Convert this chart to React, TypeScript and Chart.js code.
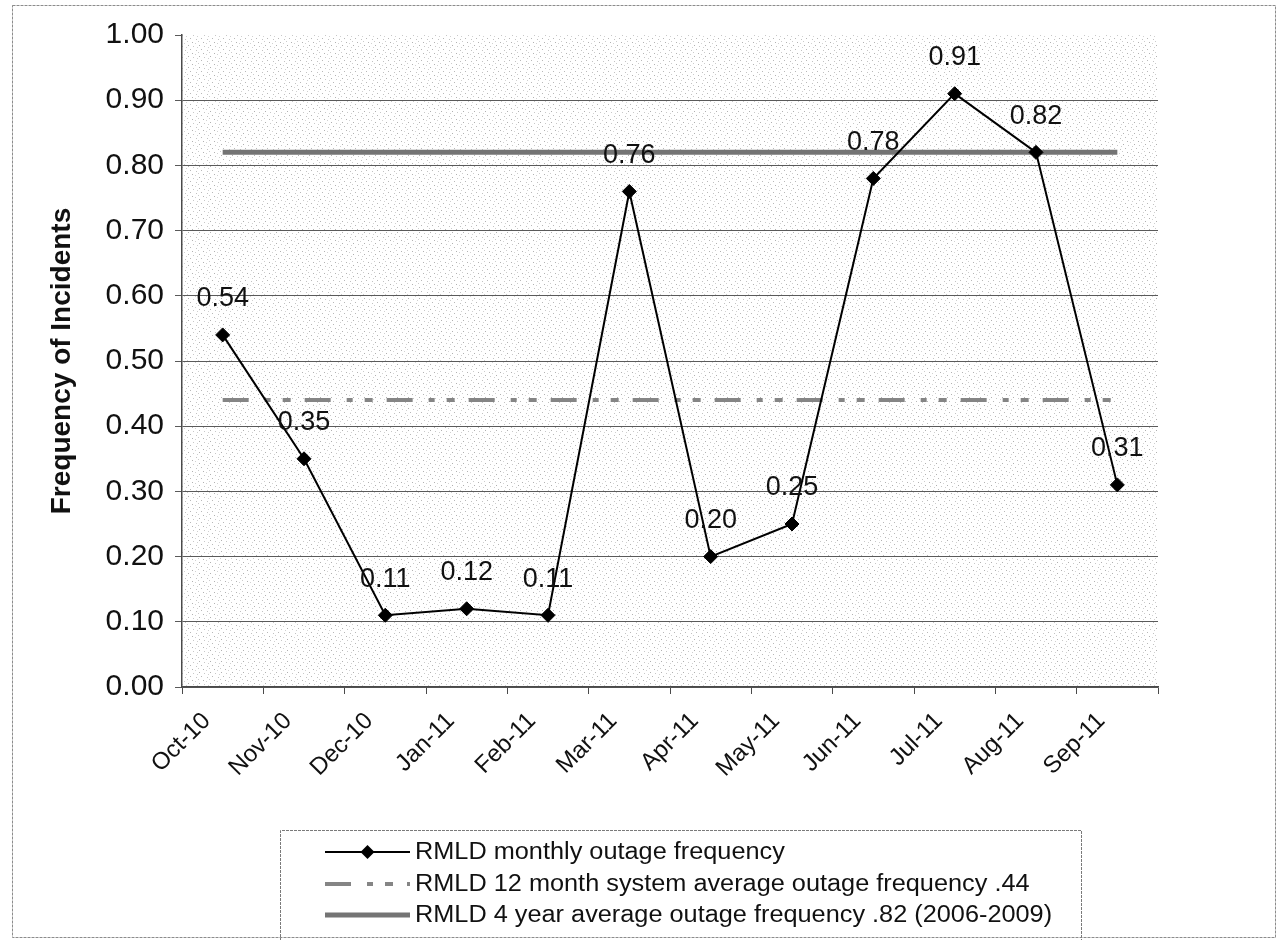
import React, { useEffect, useRef } from 'react';
import { Chart, registerables } from 'chart.js';

Chart.register(...registerables);

// Reporting months (fiscal year Oct-10 .. Sep-11)
const months = ['Oct-10', 'Nov-10', 'Dec-10', 'Jan-11', 'Feb-11', 'Mar-11', 'Apr-11', 'May-11', 'Jun-11', 'Jul-11', 'Aug-11', 'Sep-11'];

// Monthly outage frequency
const monthlyFrequency = [0.54, 0.35, 0.11, 0.12, 0.11, 0.76, 0.20, 0.25, 0.78, 0.91, 0.82, 0.31];

// 12 month system average (.44)
const twelveMonthAverage = [0.44, 0.44, 0.44, 0.44, 0.44, 0.44, 0.44, 0.44, 0.44, 0.44, 0.44, 0.44];

// 4 year average 2006-2009 (.82)
const fourYearAverage = [0.82, 0.82, 0.82, 0.82, 0.82, 0.82, 0.82, 0.82, 0.82, 0.82, 0.82, 0.82];

const seriesNames = [
  'RMLD monthly outage frequency',
  'RMLD 12 month system average outage frequency .44',
  'RMLD 4 year average outage frequency .82 (2006-2009)',
];

const yAxisTitle = 'Frequency of Incidents';

const FONT = '"Liberation Sans", Arial, Helvetica, sans-serif';
const DASH = [26, 16, 6, 12, 8, 14];

// Light stipple used for the plot area
function makeStipple(ctx: CanvasRenderingContext2D): CanvasPattern | string {
  const c = document.createElement('canvas');
  c.width = 11;
  c.height = 11;
  const p = c.getContext('2d');
  if (!p) return '#f0f0f0';
  p.fillStyle = '#ffffff';
  p.fillRect(0, 0, 11, 11);
  const dots = [
    [1, 1, '#b0b0b0'], [6, 2, '#c8c8c8'], [3, 5, '#b8b8b8'], [9, 6, '#c2c2c2'],
    [0, 8, '#cccccc'], [5, 9, '#b2b2b2'], [8, 10, '#d2d2d2'], [10, 3, '#d0d0d0'],
  ] as [number, number, string][];
  dots.forEach(([x, y, col]) => {
    p.fillStyle = col;
    p.fillRect(x, y, 1, 1);
  });
  return ctx.createPattern(c, 'repeat') || '#f0f0f0';
}

const backgroundPlugin = {
  id: 'pageBackground',
  beforeDraw(chart: any) {
    const { ctx, chartArea, width, height } = chart;
    ctx.save();
    ctx.fillStyle = '#ffffff';
    ctx.fillRect(0, 0, width, height);
    // outer frame
    ctx.strokeStyle = '#8c8c8c';
    ctx.lineWidth = 1;
    ctx.setLineDash([3, 1]);
    ctx.strokeRect(12.5, 5.5, 1263, 932);
    ctx.setLineDash([]);
    // plot area fill
    ctx.fillStyle = makeStipple(ctx);
    ctx.fillRect(chartArea.left, chartArea.top, chartArea.right - chartArea.left, chartArea.bottom - chartArea.top);
    ctx.restore();
  },
};

const valueLabelPlugin = {
  id: 'valueLabels',
  afterDatasetsDraw(chart: any) {
    const { ctx } = chart;
    const meta = chart.getDatasetMeta(0);
    const values = chart.data.datasets[0].data as number[];
    ctx.save();
    ctx.font = `27px ${FONT}`;
    ctx.fillStyle = '#111111';
    ctx.textAlign = 'center';
    ctx.textBaseline = 'middle';
    meta.data.forEach((pt: any, i: number) => {
      ctx.fillText(values[i].toFixed(2), pt.x, pt.y - 36);
    });
    ctx.restore();
  },
};

const legendBoxPlugin = {
  id: 'legendBox',
  afterDraw(chart: any) {
    const { ctx } = chart;
    const ds = chart.data.datasets;
    const boxL = 280.5;
    const boxT = 830.5;
    const boxR = 1081.5;
    ctx.save();
    ctx.strokeStyle = '#7a7a7a';
    ctx.lineWidth = 1;
    ctx.setLineDash([3, 1]);
    ctx.beginPath();
    ctx.moveTo(boxL, 945);
    ctx.lineTo(boxL, boxT);
    ctx.lineTo(boxR, boxT);
    ctx.lineTo(boxR, 945);
    ctx.stroke();
    ctx.setLineDash([]);

    const rows = [852, 884, 915];
    const x0 = 325;
    const x1 = 410;
    ds.forEach((d: any, i: number) => {
      const y = rows[i];
      ctx.save();
      ctx.strokeStyle = d.borderColor;
      ctx.lineWidth = d.borderWidth;
      ctx.setLineDash(d.borderDash || []);
      ctx.beginPath();
      ctx.moveTo(x0, y);
      ctx.lineTo(x1, y);
      ctx.stroke();
      ctx.setLineDash([]);
      if (d.pointRadius > 0) {
        const r = d.pointRadius;
        const cx = (x0 + x1) / 2;
        ctx.fillStyle = d.pointBackgroundColor;
        ctx.beginPath();
        ctx.moveTo(cx, y - r);
        ctx.lineTo(cx + r, y);
        ctx.lineTo(cx, y + r);
        ctx.lineTo(cx - r, y);
        ctx.closePath();
        ctx.fill();
      }
      ctx.restore();

      ctx.save();
      ctx.translate(x1 + 5, y);
      ctx.scale(1.1, 1);
      ctx.font = `23px ${FONT}`;
      ctx.fillStyle = '#111111';
      ctx.textAlign = 'left';
      ctx.textBaseline = 'middle';
      ctx.fillText(d.label, 0, 1);
      ctx.restore();
    });
    ctx.restore();
  },
};

export default function App() {
  const canvasRef = useRef<HTMLCanvasElement | null>(null);

  useEffect(() => {
    const canvas = canvasRef.current;
    if (!canvas) return;
    const chart = new Chart(canvas, {
      type: 'line',
      data: {
        labels: months,
        datasets: [
          {
            label: seriesNames[0],
            data: monthlyFrequency,
            borderColor: '#000000',
            borderWidth: 2,
            pointStyle: 'rectRot',
            pointRadius: 7,
            pointBackgroundColor: '#000000',
            pointBorderColor: '#000000',
            pointBorderWidth: 1,
            tension: 0,
          },
          {
            label: seriesNames[1],
            data: twelveMonthAverage,
            borderColor: '#858585',
            borderWidth: 4,
            borderDash: DASH,
            pointRadius: 0,
            tension: 0,
          },
          {
            label: seriesNames[2],
            data: fourYearAverage,
            borderColor: '#747474',
            borderWidth: 5,
            pointRadius: 0,
            tension: 0,
          },
        ] as any,
      },
      options: {
        animation: false,
        responsive: false,
        maintainAspectRatio: false,
        devicePixelRatio: 1,
        layout: { padding: { left: 10, right: 125, top: 35, bottom: 120 } },
        plugins: {
          legend: { display: false },
          tooltip: { enabled: false },
        },
        scales: {
          x: {
            offset: true,
            grid: {
              offset: true,
              drawOnChartArea: false,
              drawTicks: true,
              tickLength: 7,
              color: '#4a4a4a',
            },
            border: { color: '#4a4a4a', width: 1.5 },
            ticks: {
              autoSkip: false,
              maxRotation: 45,
              minRotation: 45,
              padding: 13,
              labelOffset: -16,
              color: '#111111',
              font: { family: FONT, size: 24 },
            },
            afterFit: (s: any) => {
              s.height = 133;
            },
          },
          y: {
            min: 0,
            max: 1,
            ticks: {
              stepSize: 0.1,
              padding: 11,
              color: '#111111',
              font: { family: FONT, size: 30 },
              callback: (v: any) => Number(v).toFixed(2),
            },
            grid: {
              color: (c: any) => (c.tick && Math.abs(c.tick.value - 1) < 1e-6 ? 'rgba(0,0,0,0)' : '#5a5a5a'),
              tickColor: '#5a5a5a',
              tickLength: 7,
              lineWidth: 1,
            },
            border: { color: '#4a4a4a', width: 1.5 },
            title: {
              display: true,
              text: yAxisTitle,
              color: '#111111',
              font: { family: FONT, size: 28, weight: 'bold' },
              padding: { top: 35, bottom: 0 },
            },
            afterFit: (s: any) => {
              s.width = 172;
            },
          },
        },
      } as any,
      plugins: [backgroundPlugin, valueLabelPlugin, legendBoxPlugin],
    });
    return () => chart.destroy();
  }, []);

  return (
    <div style={{ position: 'fixed', left: 0, top: 0, width: 1283, height: 940, background: '#ffffff' }}>
      <canvas ref={canvasRef} width={1283} height={940} style={{ display: 'block', width: 1283, height: 940 }} />
    </div>
  );
}
